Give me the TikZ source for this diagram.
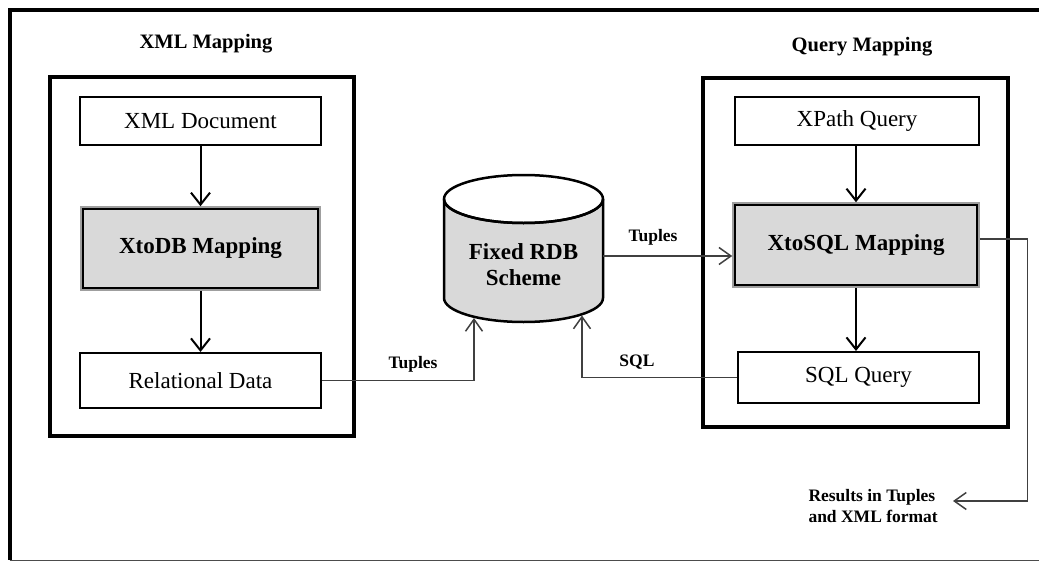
\documentclass[tikz,border=0pt]{standalone}
\usepackage{fontspec}
\setmainfont{Liberation Serif}
\usetikzlibrary{arrows.meta,calc}
\tikzset{
  boxfont/.style={font=\fontsize{23}{26}\selectfont},
  smallbold/.style={font=\fontsize{17.5}{21}\selectfont\bfseries},
  plainbox/.style={draw, line width=2, fill=white, inner sep=0, boxfont},
  mapbox/.style={draw=gray!75, line width=1.5, fill=gray!30, inner sep=0,
                 font=\fontsize{23}{26}\selectfont\bfseries},
  groupbox/.style={draw, line width=3.5},
  arr/.style={line width=2, -{Straight Barb[length=12,width=19]}},
  conn/.style={draw=black!75, line width=1.5, -{Straight Barb[length=12,width=17]}},
  tag/.style={smallbold, inner sep=0},
  dbfill/.style={fill=gray!30, draw, line width=2.5},
}
\begin{document}
\begin{tikzpicture}[x=1pt,y=-1pt]
\useasboundingbox (0,0) rectangle (1039,562);

% outer frame
\draw[line width=4] (1039,9.5) -- (9.5,9.5) -- (9.5,560);
\draw[black!70, line width=1.5] (9.5,560.5) -- (1039,560.5);

% group frames
\draw[groupbox] (50,77) rectangle (354,436);
\draw[groupbox] (703,78) rectangle (1008,427);
\node[font=\fontsize{20.5}{24}\selectfont\bfseries] (xmlmap) at (206,44) {XML Mapping};
\node[font=\fontsize{20.5}{24}\selectfont\bfseries] (qmap) at (862,47) {Query Mapping};

% XML side
\node[plainbox, minimum width=241, minimum height=48] (xmldoc) at (200.5,121) {XML Document};
\node[mapbox, minimum width=239, minimum height=83] (xtodb) at (200.5,248.5) {XtoDB Mapping};
\node[plainbox, minimum width=241, minimum height=55] (rel) at (200.5,380.5) {Relational Data};

% Query side
\node[plainbox, minimum width=244, minimum height=48] (xpath) at (857,121) {XPath Query};
\node[mapbox, minimum width=246, minimum height=84] (xtosql) at (856,245) {XtoSQL Mapping};
\node[plainbox, minimum width=241, minimum height=51] (sqlq) at (858.5,377.5) {SQL Query};

% inner borders of the mapping boxes
\foreach \b in {xtodb,xtosql}{
  \draw[line width=1.6] ([shift={(3,3)}]\b.north west) rectangle ([shift={(-3,-3)}]\b.south east);
}

% database cylinder
\path[dbfill] (444,199) -- (444,298) arc[start angle=180, end angle=0, x radius=79.5, y radius=24]
  -- (603,199) arc[start angle=0, end angle=180, x radius=79.5, y radius=24] -- cycle;
\draw[line width=2.5] (523.5,199) ellipse[x radius=79.5, y radius=24];
\node[font=\fontsize{23}{26}\selectfont\bfseries, align=center] (rdb) at (523.5,265) {Fixed RDB\\Scheme};
\coordinate (dbL) at (474,318);
\coordinate (dbR) at (582,315.5);
\coordinate (dbE) at (603,256);

% flows inside the groups
\draw[arr] (xmldoc) -- (xtodb);
\draw[arr] (xtodb) -- (rel);
\draw[arr] (xpath.south -| xtosql.north) -- (xtosql);
\draw[arr] (xtosql.south) -- (xtosql.south |- sqlq.north);

% flows between the groups
\draw[conn] (rel.east) -| (dbL);
\node[tag] (t1) at (413,364) {Tuples};
\draw[conn] (sqlq.west) -| (dbR);
\node[tag] (t2) at (637,362) {SQL};
\draw[conn] (dbE) -- (dbE -| xtosql.west);
\node[tag] (t3) at (653,237) {Tuples};

% results
\coordinate (turn) at (1027.5,239);
\coordinate (restip) at (953,501);
\node[tag, anchor=east, align=left] (res) at (938,506) {Results in Tuples\\and XML format};
\draw[conn] (xtosql.east |- turn) -- (turn) |- (restip);
\end{tikzpicture}
\end{document}
